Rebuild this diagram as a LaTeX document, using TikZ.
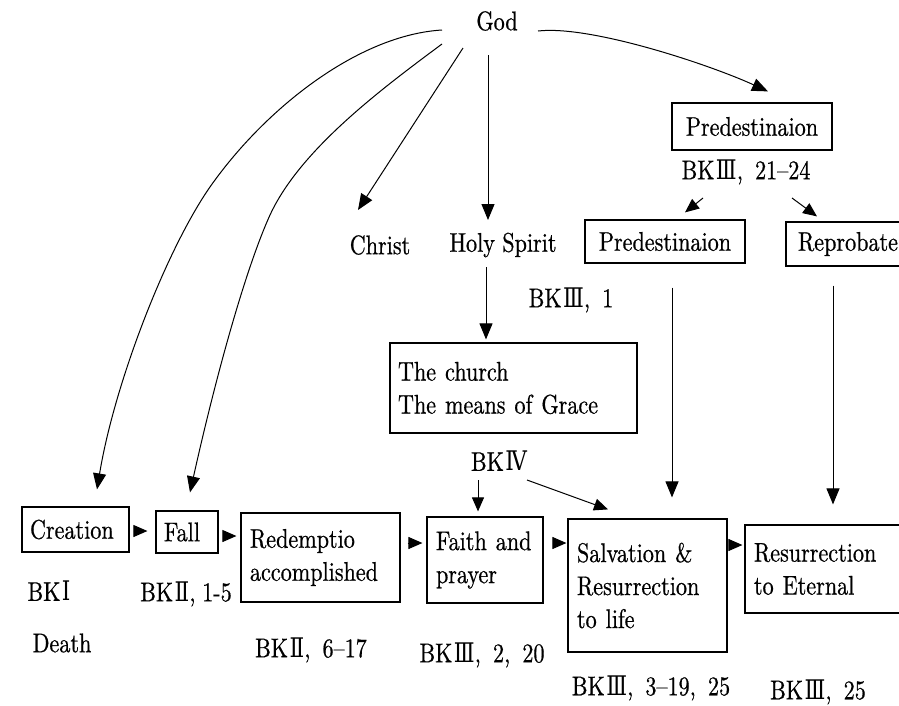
\documentclass[tikz,border=0pt]{standalone}
\usepackage{fontspec}
\setmainfont{lmroman10-regular}[Extension=.otf, FakeStretch=0.82, FakeBold=0.6]
\newfontfamily\rnfont{DejaVu Serif}[FakeStretch=0.8]
\usetikzlibrary{arrows.meta,calc}
\newcommand{\rn}[1]{\hspace{1.5pt}{\rnfont #1}}
\newcommand{\cm}{,\hspace{0.45em}}
\begin{document}
\begin{tikzpicture}[x=1pt,y=-1pt,
  font=\fontsize{27}{33}\selectfont,
  lbl/.style={inner sep=0pt},
  box/.style={draw, line width=1.2pt, inner ysep=0pt, align=left},
  sbox/.style={draw, line width=1.2pt, inner sep=0pt, align=center},
  arr/.style={line width=1pt, -{Triangle[length=16pt,width=13pt]}},
  sarr/.style={line width=1pt, -{Triangle[length=14pt,width=12pt]}},
  stub/.style={line width=1pt, -{Triangle[length=14pt,width=12pt]}}]
\useasboundingbox (0,0) rectangle (899,705);
\fill[white] (0,0) rectangle (899,705);

% nodes
\node[lbl] (god) at (497,21) {God};
\node[sbox, minimum width=160pt, minimum height=47pt] (pred) at (752,126.5) {Predestinaion};
\node[lbl] (bk21) at (746,172) {BK\rn{Ⅲ}\cm 21–24};
\node[sbox, minimum width=160pt, minimum height=43pt] (pred2) at (665,241.5) {Predestinaion};
\node[box, text width=95pt, inner xsep=12pt, minimum height=44pt] (repro) at (845.5,244) {Reprobate};
\node[lbl] (christ) at (380,245) {Christ};
\node[lbl] (hs) at (503,245) {Holy~Spirit};
\node[lbl] (bk1) at (571,300) {BK\rn{Ⅲ}\cm 1};
\node[box, text width=231pt, inner xsep=8pt, minimum height=90pt] (church) at (513.5,388) {The~church\\The~means~of~Grace};
\node[lbl] (bk4) at (499,461) {BK\rn{Ⅳ}};

\node[box, text width=91pt, inner xsep=8pt, minimum height=45pt] (creation) at (75.5,529.5) {Creation};
\node[box, text width=46pt, inner xsep=8pt, minimum height=42pt] (fall) at (187,532) {Fall};
\node[box, text width=141pt, inner xsep=9pt, minimum height=89pt] (redemp) at (320.5,557.5) {Redemptio\\accomplished};
\node[box, text width=98pt, inner xsep=9pt, minimum height=86pt] (faith) at (485,560) {Faith~and\\prayer};
\node[box, text width=141pt, inner xsep=9pt, minimum height=133pt] (salv) at (647.5,585.5) {Salvation~\&\\Resurrection\\to~life};
\node[box, text width=142pt, inner xsep=9pt, minimum height=88pt] (resur) at (825,569) {Resurrection\\to~Eternal};

\node[lbl] (bkI) at (49,591) {BK\rn{Ⅰ}};
\node[lbl] (death) at (62,643) {Death};
\node[lbl] (bkIIa) at (186,594) {BK\rn{Ⅱ},\hspace{0.25em}1-5};
\node[lbl] (bkIIb) at (311,650) {BK\rn{Ⅱ}\cm 6–17};
\node[lbl] (bkIIIa) at (482,655) {BK\rn{Ⅲ}\cm 2\cm 20};
\node[lbl] (bkIIIb) at (651,688) {BK\rn{Ⅲ}\cm 3–19\cm 25};
\node[lbl] (bkIIIc) at (818,692) {BK\rn{Ⅲ}\cm 25};

% arrows from God
\draw[arr] ($(god)+(-55,9)$) .. controls (360,35) and (270,105) .. (215,180)
  .. controls (170,240) and (115,380) .. ($(creation.north)+(21.5,-17)$);
\draw[arr] ($(god)+(-55,23)$) .. controls (380,90) and (300,150) .. (270,215)
  .. controls (245,270) and (215,380) .. ($(fall.north)+(3,-18)$);
\draw[arr] ($(god)+(-34,27)$) -- ($(christ)+(-22,-35)$);
\draw[arr] ($(god)+(-9,34)$) -- ($(hs)+(-15,-25)$);
\draw[arr] ($(god)+(41,10)$) .. controls (590,25) and (708,64) .. ($(pred.north)+(16,-11)$);

% Holy Spirit -> church
\coordinate (h1) at ($(hs)+(-17,22)$);
\draw[arr, shorten >=3pt] (h1) -- (h1 |- church.north);

% predestination split
\draw[sarr] ($(bk21)+(-43,26)$) -- ($(pred2.north)+(20,-7)$);
\draw[sarr] ($(bk21)+(46,26)$) -- ($(repro.north)+(-28.5,-5)$);
\coordinate (p2) at ($(pred2.south)+(7,24)$);
\draw[arr, shorten >=21pt] (p2) -- (p2 |- salv.north);
\coordinate (r2) at ($(repro.south)+(-12.5,19)$);
\draw[arr, shorten >=20pt] (r2) -- (r2 |- resur.north);

% BK IV arrows
\coordinate (b4) at ($(bk4)+(-21,19)$);
\draw[sarr, shorten >=5pt] (b4) -- (b4 |- faith.north);
\draw[sarr] ($(bk4)+(28,19)$) -- ($(salv.north)+(-39.5,-9)$);

% stub arrows between boxes
\coordinate (a1) at ([yshift=-1.5pt]creation.east);
\draw[stub, shorten <=4pt, shorten >=8pt] (a1) -- (a1 -| fall.west);
\coordinate (a2) at ([yshift=-4pt]fall.east);
\draw[stub, shorten <=5pt, shorten >=4pt] (a2) -- (a2 -| redemp.west);
\coordinate (a3) at ([yshift=14.5pt]redemp.east);
\draw[stub, shorten <=7pt, shorten >=4pt] (a3) -- (a3 -| faith.west);
\coordinate (a4) at ([yshift=17pt]faith.east);
\draw[stub, shorten <=9pt, shorten >=1pt] (a4) -- (a4 -| salv.west);
\coordinate (a5) at ([yshift=40.5pt]salv.east);
\draw[stub, shorten <=1pt, shorten >=2pt] (a5) -- (a5 -| resur.west);
\end{tikzpicture}
\end{document}
